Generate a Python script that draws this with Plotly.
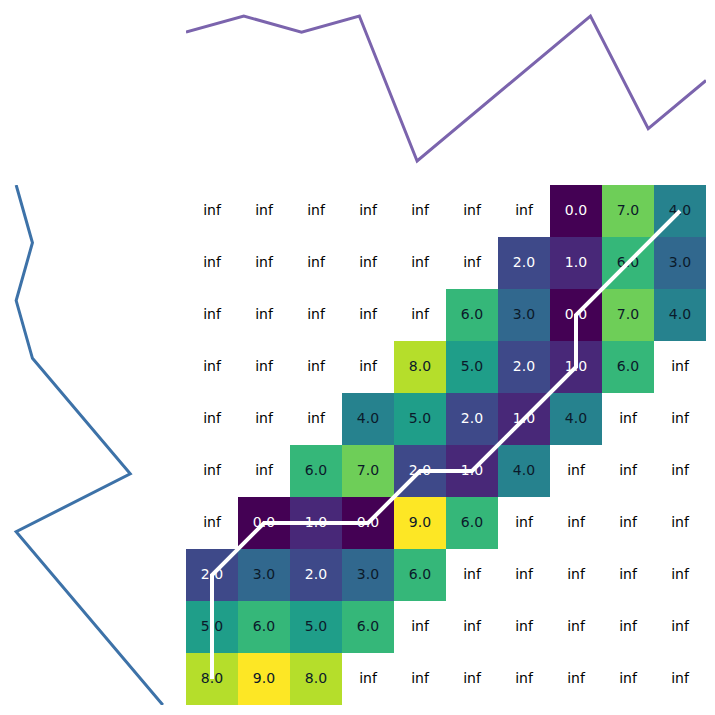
import plotly.graph_objects as go

# series drawn along the top (columns) and the left (rows)
top_series = [9, 10, 9, 10, 1, 4, 7, 10, 3, 6]
left_series = [1, 4, 7, 10, 3, 6, 9, 10, 9, 10]

# local cost matrix, row 0 at the bottom; None = outside the window ("inf")
cost = [
    [8, 9, 8, None, None, None, None, None, None, None],
    [5, 6, 5, 6, None, None, None, None, None, None],
    [2, 3, 2, 3, 6, None, None, None, None, None],
    [None, 0, 1, 0, 9, 6, None, None, None, None],
    [None, None, 6, 7, 2, 1, 4, None, None, None],
    [None, None, None, 4, 5, 2, 1, 4, None, None],
    [None, None, None, None, 8, 5, 2, 1, 6, None],
    [None, None, None, None, None, 6, 3, 0, 7, 4],
    [None, None, None, None, None, None, 2, 1, 6, 3],
    [None, None, None, None, None, None, None, 0, 7, 4],
]

# warping path (column, row)
path_cols = [0, 0, 0, 1, 2, 3, 4, 5, 6, 7, 7, 8, 9]
path_rows = [0, 1, 2, 3, 3, 3, 4, 4, 5, 6, 7, 8, 9]

n = len(top_series)
idx = list(range(n))

fig = go.Figure()

fig.add_trace(go.Heatmap(
    z=cost, x=idx, y=idx, colorscale="Viridis", zmin=0, zmax=9,
    showscale=False, xgap=0, ygap=0, hoverongaps=False,
    xaxis="x", yaxis="y",
))

# cell labels
tx, ty, tt, tc = [], [], [], []
for r in range(n):
    for c in range(n):
        v = cost[r][c]
        tx.append(c)
        ty.append(r)
        if v is None:
            tt.append("inf")
            tc.append("black")
        else:
            tt.append(f"{v:.1f}")
            tc.append("white" if v <= 2 else "#0b1a2a")
fig.add_trace(go.Scatter(
    x=tx, y=ty, text=tt, mode="text",
    textfont=dict(family="DejaVu Sans", size=14, color=tc),
    xaxis="x", yaxis="y", hoverinfo="skip",
))

fig.add_trace(go.Scatter(
    x=path_cols, y=path_rows, mode="lines",
    line=dict(color="white", width=4),
    xaxis="x", yaxis="y",
))

# top series
fig.add_trace(go.Scatter(
    x=idx, y=top_series, mode="lines",
    line=dict(color="#7b64ad", width=3),
    xaxis="x2", yaxis="y2",
))

# left series, drawn vertically
fig.add_trace(go.Scatter(
    x=left_series, y=idx, mode="lines",
    line=dict(color="#3d72a8", width=3),
    xaxis="x3", yaxis="y3",
))

# page body has an 8px margin; figure fills the rest of the 715px window
S = 707
OFF = 8
def dx(a, b):
    return [(a - OFF) / S, (b - OFF) / S]
def dy(top, bottom):
    return [(715 - bottom) / S, (715 - top) / S]

hidden = dict(showgrid=False, zeroline=False, showticklabels=False, ticks="", showline=False)

fig.update_layout(
    width=S, height=S,
    margin=dict(l=0, r=0, t=0, b=0),
    plot_bgcolor="white", paper_bgcolor="white",
    showlegend=False,
    xaxis=dict(domain=dx(186, 706), range=[-0.5, n - 0.5], **hidden),
    yaxis=dict(domain=dy(185, 705), range=[-0.5, n - 0.5], **hidden),
    xaxis2=dict(domain=dx(186, 706), range=[0, n - 1], anchor="y2", **hidden),
    yaxis2=dict(domain=dy(8, 169), range=[0.5, 10.5], anchor="x2", **hidden),
    xaxis3=dict(domain=dx(8, 171), range=[10.5, 0.5], anchor="y3", **hidden),
    yaxis3=dict(domain=dy(185, 705), range=[0, n - 1], anchor="x3", **hidden),
)

fig.write_html("out.html")
